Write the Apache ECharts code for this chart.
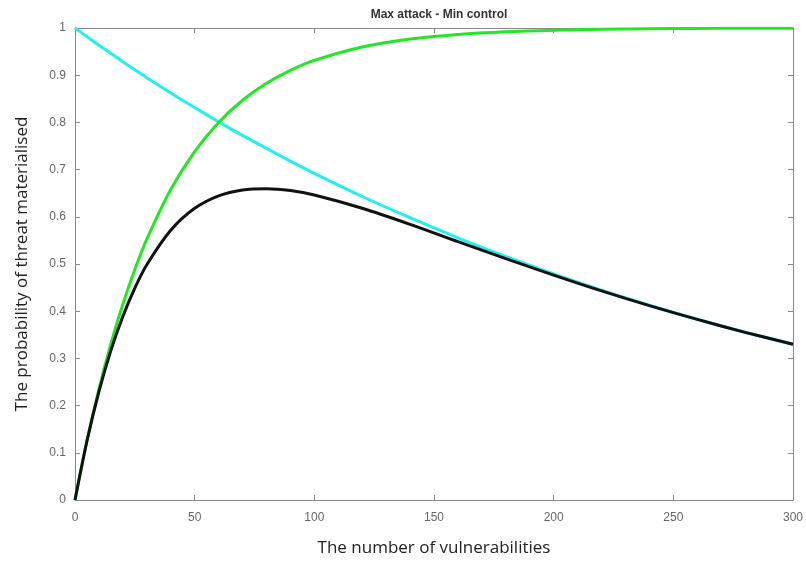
<!DOCTYPE html>
<html>
<head>
<meta charset="utf-8">
<script src="https://cdn.jsdelivr.net/npm/echarts@6/dist/echarts.min.js"></script>
<style>html,body{margin:0;padding:0;background:#fff}#c{width:806px;height:562px}</style>
</head>
<body>
<div id="c"></div>
<script>
const xValues = [0, 5, 10, 15, 20, 25, 30, 40, 50, 60, 70, 80, 90, 100, 120, 140, 160, 180, 200, 220, 240, 260, 280, 300];
const cyanValues = [1, 0.9817, 0.9636, 0.946, 0.9286, 0.9116, 0.8948, 0.8625, 0.8315, 0.8012, 0.7725, 0.745, 0.718, 0.692, 0.643, 0.598, 0.5555, 0.516, 0.479, 0.4445, 0.4125, 0.383, 0.3555, 0.3300];
const greenValues = [0, 0.1255, 0.2351, 0.3311, 0.415, 0.4884, 0.5526, 0.6578, 0.7383, 0.7998, 0.8469, 0.8829, 0.9104, 0.9315, 0.9599, 0.9766, 0.9863, 0.992, 0.9953, 0.9973, 0.9984, 0.9991, 0.9995, 0.9997];
const blackValues = [0, 0.125, 0.2295, 0.317, 0.389, 0.449, 0.4985, 0.5715, 0.618, 0.6445, 0.657, 0.6595, 0.6555, 0.6462, 0.6180, 0.5840, 0.5475, 0.5115, 0.4765, 0.4430, 0.4118, 0.3826, 0.3552, 0.3299];
const titleText = 'Max attack - Min control';
const xName = 'The number of vulnerabilities';
const yName = 'The probability of threat materialised';

const pairs = v => xValues.map((x, i) => [x, v[i]]);
const axisColor = '#8a8a8a';
const chart = echarts.init(document.getElementById('c'));
const baseX = {
  type: 'value', min: 0, max: 300, interval: 50,
  axisLine: { show: true, onZero: false, lineStyle: { color: axisColor, width: 1 } },
  axisTick: { show: true, inside: true, length: 5, lineStyle: { color: axisColor } },
  splitLine: { show: false }
};
const baseY = {
  type: 'value', min: 0, max: 1, interval: 0.1,
  axisLine: { show: true, onZero: false, lineStyle: { color: axisColor, width: 1 } },
  axisTick: { show: true, inside: true, length: 5, lineStyle: { color: axisColor } },
  splitLine: { show: false }
};
chart.setOption({
  animation: false,
  title: {
    text: titleText, left: 434, top: 4, textAlign: 'center',
    textStyle: { fontFamily: 'Liberation Sans Narrow, Liberation Sans, Arial', fontSize: 12, fontWeight: 'bold', color: '#333' }
  },
  grid: { left: 75, right: 13, top: 28, bottom: 60, containLabel: false },
  xAxis: [
    Object.assign({}, baseX, {
      position: 'bottom',
      name: xName, nameLocation: 'middle', nameGap: 40,
      nameTextStyle: { fontFamily: 'Open Sans, Liberation Sans', fontSize: 17, color: '#222' },
      axisLabel: { show: true, margin: 12, color: '#666', fontSize: 12, fontFamily: 'Liberation Sans, Arial' }
    }),
    Object.assign({}, baseX, { position: 'top', axisLabel: { show: false } })
  ],
  yAxis: [
    Object.assign({}, baseY, {
      position: 'left',
      name: yName, nameLocation: 'middle', nameGap: 44,
      nameTextStyle: { fontFamily: 'Open Sans, Liberation Sans', fontSize: 17, color: '#222' },
      axisLabel: {
        show: true, margin: 9, color: '#666', fontSize: 12, fontFamily: 'Liberation Sans, Arial',
        formatter: v => String(Math.round(v * 10) / 10)
      }
    }),
    Object.assign({}, baseY, { position: 'right', axisLabel: { show: false } })
  ],
  series: [
    { type: 'line', data: pairs(cyanValues), smooth: 0.3, showSymbol: false, lineStyle: { color: '#22f0f0', width: 3 }, z: 2 },
    { type: 'line', data: pairs(greenValues), smooth: 0.3, showSymbol: false, lineStyle: { color: '#22e822', width: 3 }, z: 3 },
    { type: 'line', data: pairs(blackValues), smooth: 0.3, showSymbol: false, lineStyle: { color: '#111111', width: 3 }, z: 4 }
  ]
});
</script>
</body>
</html>
